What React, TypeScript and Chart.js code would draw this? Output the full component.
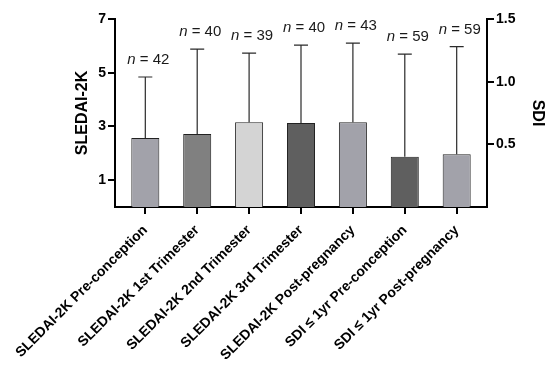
import React, { useEffect, useRef } from "react";
import { Chart, registerables } from "chart.js";

Chart.register(...registerables);

const categories = [
  "SLEDAI-2K Pre-conception",
  "SLEDAI-2K 1st Trimester",
  "SLEDAI-2K 2nd Trimester",
  "SLEDAI-2K 3rd Trimester",
  "SLEDAI-2K Post-pregnancy",
  "SDI \u2264 1yr Pre-conception",
  "SDI \u2264 1yr Post-pregnancy",
];
const sledaiMean = [2.57, 2.72, 3.16, 3.13, 3.16];
const sledaiSD = [2.27, 3.16, 2.57, 2.9, 2.94];
const sdiMean = [0.4, 0.42];
const sdiSD = [0.82, 0.86];
const nValues = [42, 40, 39, 40, 43, 59, 59];
const leftTicks = [1, 3, 5, 7];
const rightTicks = [0.5, 1.0, 1.5];

const barColors = ["#a2a2aa", "#808080", "#d4d4d4", "#5f5f5f", "#a2a2aa", "#5f5f5f", "#a2a2aa"];

const FONT = "'Liberation Sans', Arial, Helvetica, sans-serif";

const nSledai = sledaiMean.length;
const sledaiData = categories.map((_, i) => (i < nSledai ? sledaiMean[i] : null));
const sledaiErr = categories.map((_, i) => (i < nSledai ? sledaiSD[i] : null));
const sdiData = categories.map((_, i) => (i >= nSledai ? sdiMean[i - nSledai] : null));
const sdiErr = categories.map((_, i) => (i >= nSledai ? sdiSD[i - nSledai] : null));

const errorBarPlugin = {
  id: "errorBars",
  afterDatasetsDraw(chart: any) {
    const ctx = chart.ctx;
    const xScale = chart.scales.x;
    ctx.save();
    chart.data.datasets.forEach((ds: any) => {
      const yScale = chart.scales[ds.yAxisID];
      ds.data.forEach((v: number | null, i: number) => {
        if (v === null || v === undefined) return;
        const err = ds.errors[i];
        const x = xScale.getPixelForValue(i);
        const y0 = yScale.getPixelForValue(v);
        const y1 = yScale.getPixelForValue(v + err);
        ctx.strokeStyle = "#2a2a2a";
        ctx.lineWidth = 1.2;
        ctx.beginPath();
        ctx.moveTo(x, y0);
        ctx.lineTo(x, y1);
        ctx.moveTo(x - 7, y1);
        ctx.lineTo(x + 7, y1);
        ctx.stroke();

        // n label
        const yText = y1 - 17;
        const italic = `italic 15px ${FONT}`;
        const normal = `15px ${FONT}`;
        ctx.font = italic;
        const w1 = ctx.measureText("n").width;
        ctx.font = normal;
        const rest = ` = ${nValues[i]}`;
        const w2 = ctx.measureText(rest).width;
        const start = x + 3 - (w1 + w2) / 2;
        ctx.fillStyle = "#1a1a1a";
        ctx.textBaseline = "middle";
        ctx.textAlign = "left";
        ctx.font = italic;
        ctx.fillText("n", start, yText);
        ctx.font = normal;
        ctx.fillText(rest, start + w1, yText);
      });
    });
    ctx.restore();
  },
};

export default function App() {
  const canvasRef = useRef<HTMLCanvasElement>(null);

  useEffect(() => {
    if (!canvasRef.current) return;
    const chart = new Chart(canvasRef.current, {
      type: "bar",
      data: {
        labels: categories,
        datasets: [
          {
            label: "SLEDAI-2K",
            data: sledaiData,
            errors: sledaiErr,
            yAxisID: "y",
            backgroundColor: barColors,
            borderColor: "#222",
            borderWidth: 1,
          } as any,
          {
            label: "SDI",
            data: sdiData,
            errors: sdiErr,
            yAxisID: "y1",
            backgroundColor: barColors,
            borderColor: "#222",
            borderWidth: 1,
          } as any,
        ],
      },
      options: {
        animation: false,
        responsive: true,
        maintainAspectRatio: false,
        layout: { padding: { top: 19, left: 0, right: 0, bottom: 0 } },
        datasets: {
          bar: {
            grouped: false,
            barPercentage: 0.54,
            categoryPercentage: 1,
          },
        },
        plugins: {
          legend: { display: false },
          tooltip: { enabled: false },
        },
        scales: {
          x: {
            offset: true,
            grid: {
              display: true,
              offset: false,
              drawOnChartArea: false,
              drawTicks: true,
              tickLength: 7,
              color: "#000",
              lineWidth: 2,
            },
            border: { display: true, color: "#000", width: 2 },
            ticks: {
              color: "#000",
              font: { family: FONT, size: 14, weight: "bold" },
              minRotation: 45,
              maxRotation: 45,
              autoSkip: false,
              padding: 8,
            },
            afterBuildTicks(scale: any) {
              const extra = 0.084;
              scale._startValue = -0.5 - extra;
              scale._valueRange = categories.length + 2 * extra;
            },
            afterFit(scale: any) {
              scale.height = 163;
            },
          },
          y: {
            position: "left",
            min: 0,
            max: 7,
            grid: {
              display: true,
              drawOnChartArea: false,
              drawTicks: true,
              tickLength: 7,
              color: "#000",
              lineWidth: 2,
            },
            border: { display: true, color: "#000", width: 2 },
            ticks: {
              color: "#000",
              font: { family: FONT, size: 14, weight: "bold" },
              padding: 2,
            },
            afterBuildTicks(scale: any) {
              scale.ticks = leftTicks.map((v) => ({ value: v }));
            },
            title: {
              display: true,
              text: "SLEDAI-2K",
              color: "#000",
              font: { family: FONT, size: 16, weight: "bold" },
              padding: { top: 73, bottom: 0 },
            },
            afterFit(scale: any) {
              scale.width = 115;
            },
          },
          y1: {
            position: "right",
            min: 0,
            max: 1.5,
            grid: {
              display: true,
              drawOnChartArea: false,
              drawTicks: true,
              tickLength: 7,
              color: "#000",
              lineWidth: 2,
            },
            border: { display: true, color: "#000", width: 2 },
            ticks: {
              color: "#000",
              font: { family: FONT, size: 14, weight: "bold" },
              padding: 2,
              callback: (v: any) => Number(v).toFixed(1),
            },
            afterBuildTicks(scale: any) {
              scale.ticks = rightTicks.map((v) => ({ value: v }));
            },
            title: {
              display: true,
              text: "SDI",
              color: "#000",
              font: { family: FONT, size: 16, weight: "bold" },
              padding: { top: 3, bottom: 0 },
            },
            afterFit(scale: any) {
              scale.width = 63;
            },
          },
        },
      } as any,
      plugins: [errorBarPlugin],
    });
    return () => chart.destroy();
  }, []);

  return (
    <div style={{ position: "fixed", left: 0, top: 0, width: 550, height: 370 }}>
      <canvas ref={canvasRef} />
    </div>
  );
}
